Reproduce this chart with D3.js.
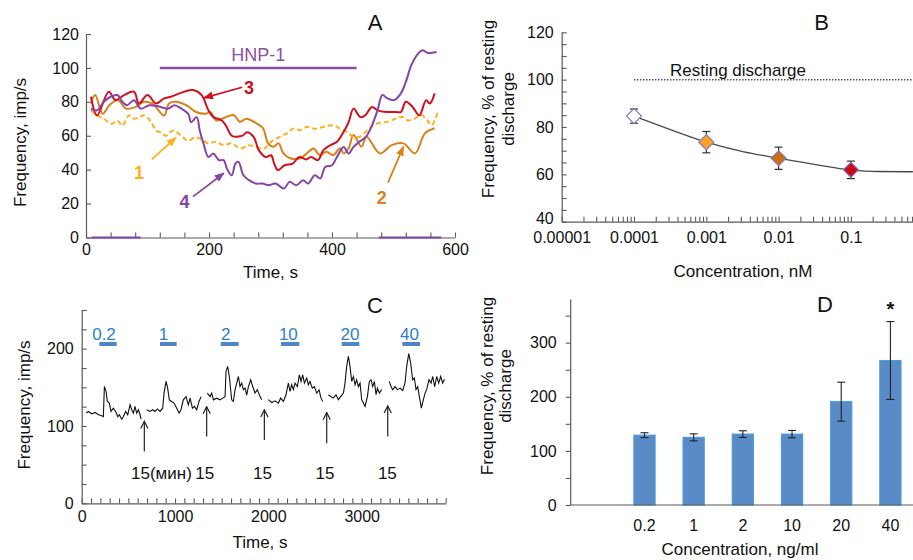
<!DOCTYPE html>
<html><head><meta charset="utf-8">
<script src="https://cdn.jsdelivr.net/npm/d3@7/dist/d3.min.js"></script>
<style>body{margin:0;background:#fff;}svg{display:block;}</style>
</head><body>
<svg id="c" width="913" height="560"></svg>
<script>
// ---------------- DATA ----------------
// Panel A (time, s / frequency, imp/s)
const aS1T = [8,18,29,42,51,59,70,78,86,95,106,114,122,130,141,155,166,177,188,199,210,224,237,251,265,276,290,301,315,326,337,348,359,372,386,402,413,424,435,444,455,464,474,490,504,515,523,534,545,553,562,567,573];
const aS1V = [75,72,70,67,69,66,72,70,71,72,68,63,62,60,63,60,57,59,58,55.5,56.4,54.5,55.5,52.5,54.4,53.4,52.5,56.4,59.3,61.3,64.2,63.3,65.2,64.2,65.2,66.2,64.2,62.3,59.3,59.3,62.3,65.2,67.2,68.2,70.1,71.1,69.1,70,72.2,70,66.2,69,75];
const aS2T = [8,15,27,38,52,65,81,94,108,127,135,146,163,179,195,202,212,223,240,250,261,277,288,296,305,313,321,332,348,359,370,380,391,402,413,419,427,435,448,456,478,497,516,535,551,567];
const aS2V = [79,84,73,78,81,76,77,80,79,72,79,80,78,74,73,74,69,70.3,72.2,68.3,70,67.3,64.4,55.5,53.5,55.5,49.6,46.7,46.7,49.6,52.5,48.6,50.6,48.6,52.6,49.6,52.6,60.4,53.5,59.4,49.6,54.5,55.5,49.6,61.4,64.4];
const aS3T = [8,18,37,48,62,78,86,100,114,127,138,160,174,188,199,207,221,229,237,254,262,273,281,292,301,306,312,323,336,347,358,366,377,386,397,408,419,427,435,446,454,465,474,490,504,512,520,531,542,553,559,567];
const aS3V = [83,72,86,81,84,86,79,84,79,82,83,86,87,84,75,71,69,65,60,60,62,59,51.5,47.5,48.5,43.6,39.7,42.6,43.6,47.5,46,47.5,45.6,51.5,54.4,56.4,62.3,68,76,71,72,77,75,74,74,74,80,77,72,81,79,85];
const aS4T = [8,18,29,40,51,59,67,78,89,103,116,133,144,155,166,171,180,185,191,199,207,216,224,229,237,243,248,256,265,276,287,297,308,322,331,342,353,361,372,381,389,400,408,419,427,435,444,455,464,474,482,490,501,512,520,529,540,547,556,570];
const aS4V = [76,75,80,83,84,80,78,81,76,78,77.5,76,78,76,73,68,71,63,55.5,47.5,49.5,45.6,45.6,40.7,36.7,43.6,44.6,36.7,33.8,31.8,31.8,30.8,31.8,28.9,32.8,30.8,33.8,31.8,36.7,34.8,41.6,42.6,47.5,53.4,49.5,53.4,56.4,59.3,65.2,75,84,82,81,85,91.7,101.6,108.4,110.4,108.8,109.4];
const aZeroSegs = [[9,89],[476,578]];
const aHNP = {label:"HNP-1", from:120, to:440, level:100};
const aXTicks = [0,200,400,600];
const aYTicks = [0,20,40,60,80,100,120];
// annotation labels: [label, t, v, arrowFromT, arrowFromV, arrowToT, arrowToV]
const aNotes = [["3",265,88.2,254,88.6,192,82.4],["1",86,38.2,107,46.1,146,58.8],["4",160,20.8,174,24.1,224,37.9],["2",481,23.1,491,32.3,516,53.5]];

// Panel B
const bConc = [0.0001,0.001,0.01,0.1];
const bVal = [84.6,73.6,66.8,61.9];
const bErr = [3,4.5,4.7,3.7];
const bCurveX = [0.0001,0.00028,0.001,0.0032,0.01,0.034,0.1,0.23,0.72];
const bCurveY = [84.6,79.5,73.6,69.6,66.8,64,61.9,61.2,61.1];
const bXTickLabels = ["0.00001","0.0001","0.001","0.01","0.1"];
const bYTicks = [40,60,80,100,120];
const bResting = 100;

// Panel C (time, s / frequency, imp/s) – trace segments [t, v]
const cSegs = [
 [[46,116.6],[71,118.8],[107,115.8],[143,117.5],[179,114.5],[214,113.2],[232,112],[243,151],[261,144.7],[275,131.7],[296,129.6],[314,118.8],[339,123],[364,118.8],[386,112],[404,114.5],[429,108.8],[446,112],[471,118.8],[493,114.5],[518,127.4],[536,121],[554,116.6],[571,125.3],[589,116.6],[607,121],[625,114.5],[636,108.8]],
 [[696,121],[732,118.8],[761,121],[786,118.8],[811,122],[839,118.8],[868,123],[882,142.5],[904,157.6],[921,149],[939,133.8],[964,131.7],[989,129.6],[1018,123],[1043,116.6],[1064,121],[1089,133.8],[1118,138],[1143,127.4],[1161,136],[1186,123],[1207,125.3],[1232,121],[1257,131.7],[1279,138]],
 [[1346,142.5],[1375,138],[1393,142.5],[1411,133.8],[1446,136],[1482,133.8],[1511,136],[1536,138],[1546,170.6],[1564,177],[1582,163.7],[1607,133.8],[1625,131.7],[1643,146.9],[1661,155.5],[1679,164],[1696,151],[1714,155.5],[1732,146.9],[1750,149],[1768,140],[1786,151],[1811,159.8],[1832,151],[1857,142.5],[1882,146.9],[1911,138],[1929,134]],
 [[2000,134],[2036,130.4],[2071,132.6],[2107,129.6],[2132,136],[2161,131.7],[2189,140.4],[2214,155.5],[2232,144.7],[2250,153.3],[2268,147],[2286,155.5],[2311,151],[2332,166],[2350,157.6],[2368,166],[2386,155.5],[2411,162],[2429,153.3],[2446,157.6],[2471,149],[2493,151],[2518,142.5],[2543,146.9],[2564,136],[2582,131.7]],
 [[2643,140.4],[2668,138],[2696,136],[2725,140.4],[2750,134],[2775,138],[2804,142.5],[2821,155.5],[2839,177],[2857,190],[2875,177],[2893,157.6],[2911,164],[2929,153.3],[2946,159.8],[2964,151],[2982,155.5],[3000,134],[3018,129.6],[3036,125.3],[3061,138],[3082,157.6],[3100,159.8],[3118,151],[3136,157.6],[3154,140.4],[3168,149],[3189,142.5],[3214,147]],
 [[3296,157.6],[3314,151],[3332,147],[3357,151],[3382,147],[3411,149],[3439,146],[3464,155.5],[3482,177],[3504,193.5],[3525,181.4],[3546,159.8],[3564,162],[3582,147],[3600,151],[3618,138],[3639,123],[3661,134],[3679,142.5],[3696,147],[3721,159.8],[3743,155.5],[3761,164],[3782,151],[3804,164],[3825,155.5],[3846,164],[3868,155.5],[3886,160.6]]
];
const cDoseLabels = ["0.2","1","2","10","20","40"];
const cDoseStart = [189,839,1489,2136,2786,3436];
const cDoseEnd = [375,1018,1682,2332,2975,3625];
const cDoseLabelT = [239,875,1543,2214,2875,3511];
const cDoseLevel = 206, cDoseLabelLevel = 218;
const cArrowT = [671,1339,1957,2625,3279];
const cArrowFrom = [67,86.4,82,77.8,86.4];
const cArrowTo = [106,125,121,117.5,126];
const cWashLabels = ["15(мин)","15","15","15","15"];
const cWashT = [854,1318,1936,2607,3275];
const cWashLevel = 38;
const cXTicks = [0,1000,2000,3000];
const cYTicks = [0,100,200];

// Panel D
const dCats = ["","0.2","1","2","10","20","40"];
const dVal = [null,129,125,131,131,191,267];
const dErr = [null,4.5,6.5,6.2,6.8,36,72];
const dYTicks = [0,100,200,300];
const dStar = {cat:"40", value:364};

// ---------------- DRAW ----------------
const FONT = '"Liberation Sans", Arial, Helvetica, sans-serif';
const AX = "#5a5a5a", TXT = "#111";
const svg = d3.select("#c").attr("font-family", FONT);

function fmtAxis(g, size){
  g.attr("font-family", FONT).attr("font-size", size||16);
  g.selectAll(".domain").attr("stroke", AX).attr("stroke-width",1.2);
  g.selectAll(".tick line").attr("stroke", AX).attr("stroke-width",1.1);
  g.selectAll(".tick text").attr("fill", TXT);
}
function text(x,y,s,opt){
  opt = opt||{};
  const t = svg.append("text").attr("x",x).attr("y",y).text(s)
    .attr("font-size",opt.size||17).attr("fill",opt.fill||TXT)
    .attr("text-anchor",opt.anchor||"middle");
  if(opt.weight) t.attr("font-weight",opt.weight);
  if(opt.rotate) t.attr("transform",`rotate(-90,${x},${y})`);
  return t;
}
const defs = svg.append("defs");
function marker(id,color,open){
  const m = defs.append("marker").attr("id",id).attr("viewBox","0 0 10 10").attr("refX",9).attr("refY",5)
   .attr("markerWidth",open?9:10).attr("markerHeight",open?9:10).attr("markerUnits","userSpaceOnUse").attr("orient","auto");
  if(open) m.append("path").attr("d","M1,1 L9,5 L1,9").attr("fill","none").attr("stroke",color).attr("stroke-width",1.3);
  else m.append("path").attr("d","M0,1 L10,5 L0,9 Z").attr("fill",color);
}

// ===== Panel A =====
const colA = {s1:"#ffae1c", s2:"#d9801a", s3:"#d0101c", s4:"#8644a6"};
const xA = d3.scaleLinear().domain([0,600]).range([86,455]);
const yA = d3.scaleLinear().domain([0,120]).range([237.5,34]);
svg.append("g").attr("transform","translate(0,237.5)")
  .call(d3.axisBottom(xA).tickValues(d3.range(0,601,40)).tickFormat(d=>aXTicks.includes(d)?d:"").tickSize(-5).tickSizeOuter(0).tickPadding(6))
  .call(g=>fmtAxis(g));
svg.append("g").attr("transform","translate(86,0)")
  .call(d3.axisLeft(yA).tickValues(aYTicks).tickSize(-5).tickSizeOuter(0).tickPadding(7))
  .call(g=>fmtAxis(g));
// zero segments
svg.append("g").selectAll("line").data(aZeroSegs).join("line")
  .attr("x1",d=>xA(d[0])).attr("x2",d=>xA(d[1])).attr("y1",yA(0)).attr("y2",yA(0))
  .attr("stroke",colA.s4).attr("stroke-width",2);
const lineA = d3.line().x(d=>xA(d[0])).y(d=>yA(d[1])).curve(d3.curveCatmullRom.alpha(0.5));
const zip = (t,v)=>t.map((d,i)=>[d,v[i]]);
[[aS2T,aS2V,colA.s2,null],[aS1T,aS1V,colA.s1,"5,3"],[aS3T,aS3V,colA.s3,null],[aS4T,aS4V,colA.s4,null]].forEach(([t,v,c,dash])=>{
  const p = svg.append("path").datum(zip(t,v)).attr("d",lineA).attr("fill","none").attr("stroke",c).attr("stroke-width",2);
  if(dash) p.attr("stroke-dasharray",dash);
});
svg.append("line").attr("x1",xA(aHNP.from)).attr("x2",xA(aHNP.to)).attr("y1",yA(aHNP.level)).attr("y2",yA(aHNP.level))
  .attr("stroke","#8a4fa6").attr("stroke-width",2.5);
text((xA(aHNP.from)+xA(aHNP.to))/2, 61, aHNP.label, {fill:"#8a4fa6", size:18});
const noteCol = {"3":colA.s3,"1":colA.s1,"4":colA.s4,"2":colA.s2};
aNotes.forEach(n=>{
  const c = noteCol[n[0]];
  marker("mA"+n[0], c, false);
  svg.append("line").attr("x1",xA(n[3])).attr("y1",yA(n[4])).attr("x2",xA(n[5])).attr("y2",yA(n[6]))
    .attr("stroke",c).attr("stroke-width",1.8).attr("marker-end",`url(#mA${n[0]})`);
  text(xA(n[1]), yA(n[2])+6, n[0], {fill:c, size:18, weight:"bold"});
});
text(375,30,"A",{size:22});
text(20,142.5,"Frequency, imp/s",{rotate:true}).attr("dy","0.35em");
text(270.5,278,"Time, s");

// ===== Panel B =====
const decade = 72.3, bx0 = 561.7;
const xB = d3.scaleLog().domain([1e-5, Math.pow(10,-5+(913-bx0)/decade)]).range([bx0,913]);
const yB = d3.scaleLinear().domain([40,120]).range([221.7,32.3]);
const bXTickVals = bXTickLabels.map(Number);
svg.append("g").attr("transform","translate(0,221.7)")
  .call(d3.axisBottom(xB).tickValues(xB.ticks()).tickFormat(d=>{const i=bXTickVals.findIndex(v=>Math.abs(v-d)/v<1e-6);return i>=0?bXTickLabels[i]:"";}).tickSize(-5).tickSizeOuter(0).tickPadding(10))
  .call(g=>fmtAxis(g));
svg.append("g").attr("transform",`translate(${bx0},0)`)
  .call(d3.axisLeft(yB).tickValues(d3.range(40,121,5)).tickFormat(d=>bYTicks.includes(d)?d:"").tickSize(-5).tickSizeOuter(0).tickPadding(8))
  .call(g=>fmtAxis(g))
  .call(g=>g.selectAll(".tick text").filter(d=>d===40).attr("dy","0.12em"));
svg.append("line").attr("x1",xB(bConc[0])).attr("x2",913).attr("y1",yB(bResting)).attr("y2",yB(bResting))
  .attr("stroke","#555").attr("stroke-width",1.5).attr("stroke-dasharray","1.5,1.5");
text(738,76,"Resting discharge");
svg.append("path").datum(bCurveX.map((d,i)=>[d,bCurveY[i]]))
  .attr("d",d3.line().x(d=>xB(d[0])).y(d=>yB(d[1])).curve(d3.curveMonotoneX))
  .attr("fill","none").attr("stroke","#4a4a4a").attr("stroke-width",1.3);
const bFill = ["#ffffff","#ffa31a","#cf6f0c","#cc0a14"];
bConc.forEach((c,i)=>{
  const x = xB(c);
  const g = svg.append("g");
  g.append("line").attr("x1",x).attr("x2",x).attr("y1",yB(bVal[i]-bErr[i])).attr("y2",yB(bVal[i]+bErr[i])).attr("stroke","#333").attr("stroke-width",1.2);
  [bVal[i]-bErr[i],bVal[i]+bErr[i]].forEach(v=>g.append("line").attr("x1",x-4).attr("x2",x+4).attr("y1",yB(v)).attr("y2",yB(v)).attr("stroke","#333").attr("stroke-width",1.2));
  const r = 7.5;
  g.append("path").attr("d",`M${x},${yB(bVal[i])-r}L${x+r},${yB(bVal[i])}L${x},${yB(bVal[i])+r}L${x-r},${yB(bVal[i])}Z`)
    .attr("fill",bFill[i]).attr("stroke","#7f78c8").attr("stroke-width",1.2);
});
text(821.7,30,"B",{size:22});
text(488,109,"Frequency, % of resting",{rotate:true}).attr("dy","0.35em");
text(508,109,"discharge",{rotate:true}).attr("dy","0.35em");
text(743,277,"Concentration, nM");

// ===== Panel C =====
const xC = d3.scaleLinear().domain([0,3900]).range([81.7,445.7]);
const yC = d3.scaleLinear().domain([0,250]).range([503.3,310]);
svg.append("g").attr("transform","translate(0,503.3)")
  .call(d3.axisBottom(xC).tickValues(d3.range(0,3901,100)).tickFormat(d=>cXTicks.includes(d)?d:"").tickSize(-5).tickSizeOuter(0).tickPadding(7))
  .call(g=>fmtAxis(g));
svg.append("g").attr("transform","translate(81.7,0)")
  .call(d3.axisLeft(yC).tickValues(d3.range(0,251,25)).tickFormat(d=>cYTicks.includes(d)?d:"").tickSize(-5).tickSizeOuter(0).tickPadding(8))
  .call(g=>fmtAxis(g));
const lineC = d3.line().x(d=>xC(d[0])).y(d=>yC(d[1]));
svg.append("g").selectAll("path").data(cSegs).join("path").attr("d",lineC)
  .attr("fill","none").attr("stroke","#111").attr("stroke-width",1.1);
svg.append("g").selectAll("line").data(cDoseStart).join("line")
  .attr("x1",d=>xC(d)).attr("x2",(d,i)=>xC(cDoseEnd[i])).attr("y1",yC(cDoseLevel)).attr("y2",yC(cDoseLevel))
  .attr("stroke","#4f86c6").attr("stroke-width",4);
cDoseLabels.forEach((l,i)=>text(xC(cDoseLabelT[i]), yC(cDoseLabelLevel)+5, l, {fill:"#2a7fcf", size:17}));
marker("mC","#222",true);
cArrowT.forEach((t,i)=>{
  svg.append("line").attr("x1",xC(t)).attr("x2",xC(t)).attr("y1",yC(cArrowFrom[i])).attr("y2",yC(cArrowTo[i]))
    .attr("stroke","#222").attr("stroke-width",1.2).attr("marker-end","url(#mC)");
});
cWashLabels.forEach((l,i)=>text(xC(cWashT[i]), yC(cWashLevel)+5, l, {size:17}));
text(375,313,"C",{size:22});
text(24,405,"Frequency, imp/s",{rotate:true}).attr("dy","0.35em");
text(260,548,"Time, s");

// ===== Panel D =====
const xD = d3.scaleBand().domain(dCats).range([570.7,915]).paddingInner(0.57).paddingOuter(0.285);
const yD = d3.scaleLinear().domain([0,380]).range([505,299.4]);
svg.append("g").attr("transform","translate(570.7,0)")
  .call(d3.axisLeft(yD).tickValues(d3.range(0,351,50)).tickFormat(d=>dYTicks.includes(d)?d:"").tickSize(5).tickSizeOuter(0).tickPadding(9))
  .call(g=>fmtAxis(g))
  .call(g=>g.select(".domain").attr("d","M0,505V299.4").attr("transform","translate(0,0)"));
const dIdx = dCats.map((c,i)=>i).filter(i=>dVal[i]!=null);
svg.append("g").selectAll("rect").data(dIdx).join("rect")
  .attr("x",i=>xD(dCats[i])).attr("width",xD.bandwidth())
  .attr("y",i=>yD(dVal[i])).attr("height",i=>yD(0)-yD(dVal[i]))
  .attr("fill","#5b8bc6").attr("stroke","#4b9be0").attr("stroke-width",1.2);
dIdx.forEach(i=>{
  const x = xD(dCats[i])+xD.bandwidth()/2;
  svg.append("line").attr("x1",x).attr("x2",x).attr("y1",yD(dVal[i]-dErr[i])).attr("y2",yD(dVal[i]+dErr[i])).attr("stroke","#222").attr("stroke-width",1.1);
  [dVal[i]-dErr[i],dVal[i]+dErr[i]].forEach(v=>svg.append("line").attr("x1",x-4).attr("x2",x+4).attr("y1",yD(v)).attr("y2",yD(v)).attr("stroke","#222").attr("stroke-width",1.1));
});
svg.append("g").attr("transform","translate(0,505)")
  .call(d3.axisBottom(xD).tickSize(0).tickPadding(15).tickSizeOuter(0))
  .call(g=>fmtAxis(g))
  .call(g=>g.select(".domain").attr("d","M570.7,0H913"));
text(xD(dStar.cat)+xD.bandwidth()/2, yD(dStar.value)+8, "*", {size:20, weight:"bold"});
text(825,311.7,"D",{size:22});
text(486.7,386,"Frequency, % of resting",{rotate:true}).attr("dy","0.35em");
text(505,386,"discharge",{rotate:true}).attr("dy","0.35em");
text(740,555,"Concentration, ng/ml");
</script>
</body></html>
